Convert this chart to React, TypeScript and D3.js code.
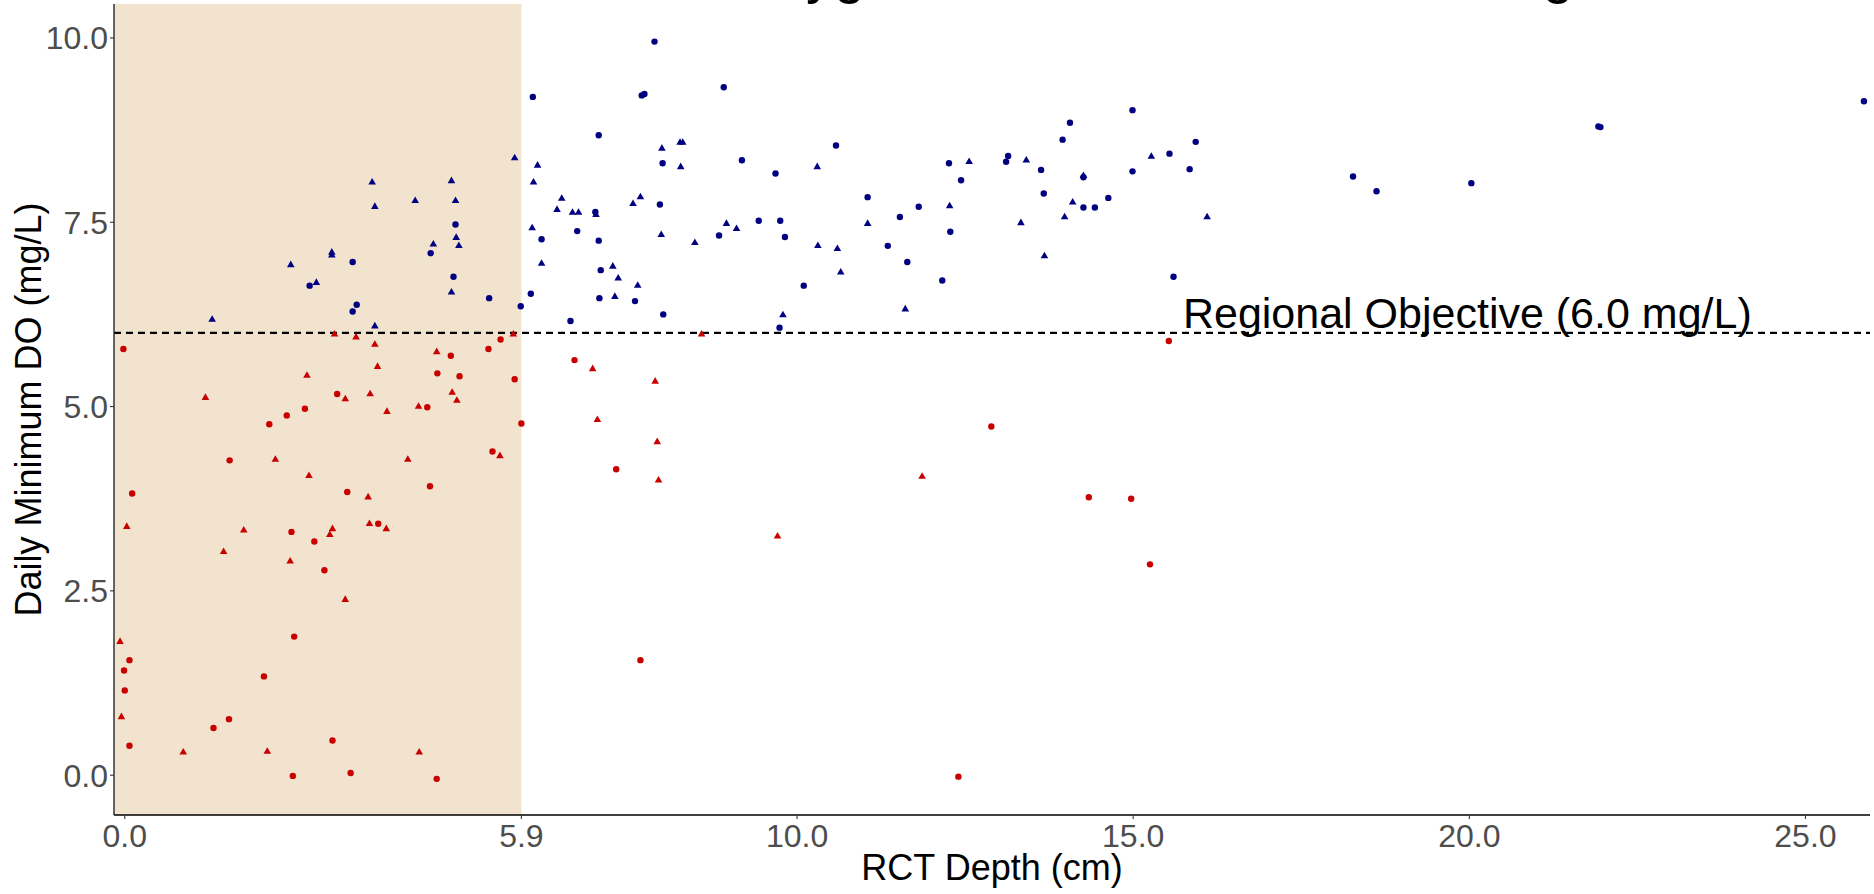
import React from 'react';
import * as d3 from 'd3';

// RCT depth (cm) and daily minimum DO (mg/L)
const circleDepth = [
  6.07, 7.88, 7.69, 7.73, 7.05, 8.0, 4.92, 4.55, 4.89, 3.39, 2.75, 5.42, 7.0, 7.96, 6.2, 6.73,
  7.05, 7.08, 6.04, 7.06, 7.59, 5.89, 6.63, 8.01, 3.39, 3.45, 8.91, 9.18, 8.84, 9.43, 9.68, 9.75,
  9.82, 9.74, 10.1, 10.58, 11.05, 11.35, 11.53, 11.64, 11.81, 12.16, 12.26, 12.28, 12.44, 13.11,
  13.14, 13.63, 13.67, 13.95, 14.06, 14.26, 14.26, 14.43, 14.63, 14.99, 14.99, 15.54, 15.84,
  15.93, 15.6, 18.27, 18.62, 20.03, 21.92, 21.95, 25.87,
  5.59, 15.53, -0.02, 4.85, 5.41, 4.65, 4.98, 5.8, 3.16, 2.68, 2.41, 2.15, 4.5, 5.9, 6.69, 7.31,
  5.47, 1.56, 4.54, 0.11, 3.31, 2.48, 3.77, 2.82, 2.97, 2.52, 0.07, -0.01, 0.0, 2.07, 1.32, 1.55,
  0.07, 3.09, 2.5, 3.36, 4.64, 7.67, 12.89, 14.34, 14.97, 15.25, 12.4,
];
const circleDO = [
  9.2, 9.95, 9.22, 9.24, 8.68, 8.3, 7.47, 7.08, 6.76, 6.96, 6.64, 6.47, 7.64, 7.74, 7.27, 7.38,
  7.25, 6.85, 6.53, 6.47, 6.43, 6.36, 6.16, 6.25, 6.29, 6.38, 9.33, 8.34, 7.32, 7.52, 8.16, 7.52,
  7.3, 6.07, 6.64, 8.54, 7.84, 7.18, 7.57, 6.96, 7.71, 6.71, 8.3, 7.37, 8.07, 8.32,
  8.4, 8.21, 7.89, 8.62, 8.85, 8.11, 7.7, 7.7, 7.83, 9.02, 8.19, 8.43, 8.22,
  8.59, 6.76, 8.12, 7.92, 8.03, 8.8, 8.79, 9.14,
  5.91, 5.89, 5.78, 5.69, 5.78, 5.45, 5.41, 5.37, 5.17, 4.97, 4.88, 4.76, 4.99, 4.77, 5.63, 4.15,
  4.39, 4.27, 3.92, 3.82, 3.84, 3.3, 3.41, 3.17, 2.78, 1.88, 1.56, 1.42, 1.15, 1.34, 0.64, 0.76,
  0.4, 0.47, -0.01, 0.03, -0.05, 1.56, 4.73, 3.77, 3.75, 2.86, -0.02,
];
const triangleDepth = [
  5.8, 6.14, 7.99, 8.26, 8.3, 8.27, 3.68, 4.86, 6.08, 3.72, 4.32, 4.92, 4.93, 4.97, 4.59, 4.86,
  2.47, 3.08, 3.08, 2.85, 6.5, 6.43, 6.66, 6.75, 7.01, 7.56, 7.67, 7.98, 8.48, 6.06, 6.2, 7.26,
  7.34, 7.63, 7.29, 9.79, 1.3, 3.72, 8.95, 9.1, 10.3, 10.31, 10.6, 10.65, 11.05, 11.61, 12.27,
  12.56, 13.41, 13.33, 13.68, 13.98, 14.1, 14.26, 15.27, 16.1,
  5.78, 8.58, 3.12, 3.44, 3.72, 4.64, 3.76, 2.71, 1.2, 3.28, 3.65, 4.87, 4.94, 3.9, 4.37, 6.96,
  7.89, 7.03, 7.92, 7.94, 5.58, 2.24, 4.21, 2.74, 3.62, 0.03, 1.77, 3.09, 3.05, 3.64, 3.89, 1.47,
  2.46, 3.28, -0.07, -0.05, 0.87, 2.12, 4.38, 11.86, 9.71,
];
const triangleDO = [
  8.37, 8.27, 8.5, 8.58, 8.58, 8.25, 8.04, 8.06, 8.04, 7.71, 7.79, 7.79, 7.29, 7.18, 7.2, 6.55,
  6.92, 7.05, 7.09, 6.68, 7.82, 7.67, 7.63, 7.63, 7.6, 7.75, 7.84, 7.33, 7.22, 7.42, 6.94, 6.9,
  6.74, 6.64, 6.49, 6.24, 6.18, 6.09, 7.48, 7.41, 8.25, 7.18, 7.14, 6.82, 7.48, 6.32, 7.72,
  8.32, 8.34, 7.49, 7.04, 7.57, 7.77, 8.13, 8.39, 7.57,
  5.98, 5.98, 5.98, 5.94, 5.84, 5.74, 5.54, 5.42, 5.12, 5.1, 5.17, 5.19, 5.08, 4.93, 5.0, 5.51,
  5.34, 4.82, 4.52, 4.0, 4.33, 4.28, 4.28, 4.06, 3.77, 3.37, 3.32, 3.34, 3.26, 3.41, 3.34, 3.03,
  2.9, 2.38, 1.81, 0.79, 0.31, 0.32, 0.31, 4.05, 3.24,
];

const xTicks = [0, 5.9, 10, 15, 20, 25];
const yTicks = [0, 2.5, 5, 7.5, 10];
const objective = 6.0;
const shadeMax = 5.9;

const W = 1874;
const H = 894;
const panel = { left: 114, right: 1870, top: 4, bottom: 815 };
const font = '"Liberation Sans", Arial, sans-serif';
const navy = '#000080';
const red = '#C90000';

export default function App() {
  const x = d3.scaleLinear().domain([-0.16, 25.96]).range([panel.left, panel.right]);
  const y = d3.scaleLinear().domain([-0.54, 10.46]).range([panel.bottom, panel.top]);
  const tri = d3.symbol().type(d3.symbolTriangle).size(25)();
  const col = (v: number) => (v >= objective ? navy : red);

  return (
    <div style={{ position: 'absolute', left: 0, top: 0 }}>
      <svg width={W} height={H} style={{ display: 'block', fontFamily: font }}>
        <rect x={0} y={0} width={W} height={H} fill="#fff" />
        {/* title sits mostly above the frame, as in the source image */}
        <text x={476} y={-8} fontSize={56} fill="#000">
          Dissolved Oxygen Levels at RCT Monitoring Sites
        </text>

        <rect
          x={panel.left}
          y={panel.top}
          width={x(shadeMax) - panel.left}
          height={panel.bottom - panel.top}
          fill="#F1E3CE"
        />

        <line
          x1={panel.left}
          x2={panel.right}
          y1={y(objective)}
          y2={y(objective)}
          stroke="#000"
          strokeWidth={2.3}
          strokeDasharray="7 5"
        />
        <text x={x(15.74)} y={y(6.06)} fontSize={43} fill="#000">
          Regional Objective (6.0 mg/L)
        </text>

        {circleDepth.map((d, i) => (
          <circle key={'c' + i} cx={x(d)} cy={y(circleDO[i])} r={3.2} fill={col(circleDO[i])} />
        ))}
        {triangleDepth.map((d, i) => (
          <path
            key={'t' + i}
            d={tri!}
            transform={`translate(${x(d)},${y(triangleDO[i])})`}
            fill={col(triangleDO[i])}
          />
        ))}

        {/* axes */}
        <line x1={panel.left} x2={panel.left} y1={panel.top} y2={panel.bottom} stroke="#333" strokeWidth={1.5} />
        <line x1={panel.left} x2={panel.right} y1={panel.bottom} y2={panel.bottom} stroke="#000" strokeWidth={1.6} />
        {xTicks.map((t) => (
          <g key={'xt' + t}>
            <line x1={x(t)} x2={x(t)} y1={panel.bottom} y2={panel.bottom + 4} stroke="#333" strokeWidth={1.1} />
            <text x={x(t)} y={847} fontSize={32} fill="#4D4D4D" textAnchor="middle">
              {t.toFixed(1)}
            </text>
          </g>
        ))}
        {yTicks.map((t) => (
          <g key={'yt' + t}>
            <line x1={panel.left - 4} x2={panel.left} y1={y(t)} y2={y(t)} stroke="#333" strokeWidth={1.1} />
            <text x={108} y={y(t) + 11.5} fontSize={32} fill="#4D4D4D" textAnchor="end">
              {t.toFixed(1)}
            </text>
          </g>
        ))}

        <text x={(panel.left + panel.right) / 2} y={880} fontSize={36} fill="#000" textAnchor="middle">
          RCT Depth (cm)
        </text>
        <text
          transform={`translate(41,${(panel.top + panel.bottom) / 2}) rotate(-90)`}
          fontSize={36}
          fill="#000"
          textAnchor="middle"
        >
          Daily Minimum DO (mg/L)
        </text>
      </svg>
    </div>
  );
}
